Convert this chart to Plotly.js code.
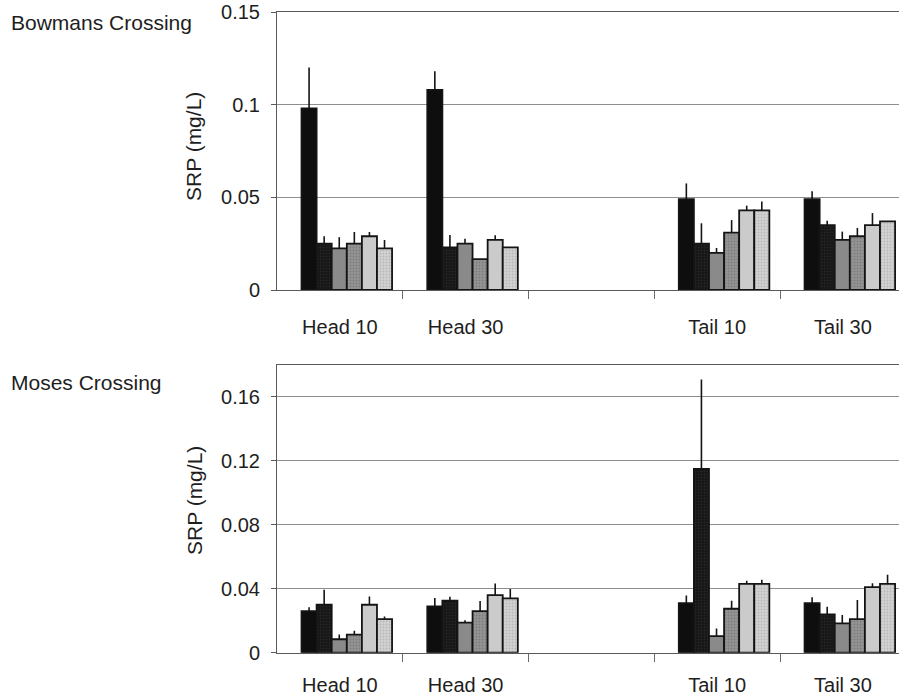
<!DOCTYPE html>
<html>
<head>
<meta charset="utf-8">
<script src="https://cdn.plot.ly/plotly-3.0.1.min.js"></script>
<style>
  html, body { margin: 0; padding: 0; background: #ffffff; }
  #chart { width: 899px; height: 700px; }
</style>
</head>
<body>
<div id="chart"></div>
<script>
// Sampling sites along the reach (gap between the head and tail reaches)
const siteLabels = ["Head 10", "Head 30", "Tail 10", "Tail 30"];
const sitePos = [0, 1, 3, 4];

// Bowmans Crossing: mean SRP (mg/L), one array per sampling series
const bowmansMean1 = [0.098, 0.108, 0.049, 0.049];
const bowmansMean2 = [0.025, 0.023, 0.025, 0.035];
const bowmansMean3 = [0.0225, 0.025, 0.020, 0.027];
const bowmansMean4 = [0.025, 0.0167, 0.031, 0.029];
const bowmansMean5 = [0.029, 0.027, 0.043, 0.035];
const bowmansMean6 = [0.0225, 0.023, 0.043, 0.037];

// Bowmans Crossing: standard error (upper bar only)
const bowmansErr1 = [0.022, 0.010, 0.0085, 0.0043];
const bowmansErr2 = [0.004, 0.0067, 0.011, 0.0023];
const bowmansErr3 = [0.006, 0.0027, 0.0027, 0.0045];
const bowmansErr4 = [0.0063, 0, 0.0067, 0.0045];
const bowmansErr5 = [0.0023, 0.0025, 0.0025, 0.0065];
const bowmansErr6 = [0.0045, 0, 0.0047, 0];

// Moses Crossing: mean SRP (mg/L)
const mosesMean1 = [0.026, 0.029, 0.031, 0.031];
const mosesMean2 = [0.030, 0.0325, 0.115, 0.024];
const mosesMean3 = [0.0084, 0.0188, 0.0104, 0.0184];
const mosesMean4 = [0.0113, 0.026, 0.0275, 0.021];
const mosesMean5 = [0.030, 0.036, 0.043, 0.041];
const mosesMean6 = [0.021, 0.034, 0.043, 0.043];

// Moses Crossing: standard error (upper bar only)
const mosesErr1 = [0.0025, 0.0052, 0.0048, 0.0037];
const mosesErr2 = [0.0094, 0.0025, 0.056, 0.0048];
const mosesErr3 = [0.003, 0.0015, 0.0048, 0.0052];
const mosesErr4 = [0.0025, 0.0063, 0.005, 0.012];
const mosesErr5 = [0.0052, 0.0073, 0.002, 0.0025];
const mosesErr6 = [0.0017, 0.0058, 0.0026, 0.0058];

// Axis ticks
const bowmansTicks = [0, 0.05, 0.1, 0.15];
const bowmansTickText = ["0", "0.05", "0.1", "0.15"];
const mosesTicks = [0, 0.04, 0.08, 0.12, 0.16];
const mosesTickText = ["0", "0.04", "0.08", "0.12", "0.16"];
const siteBoundaries = [0.5, 1.5, 2.5, 3.5];

// Fill shades for the six series (black through light grey)
const fills = ["#0e0e0e", "#161616", "#8a8a8a", "#959595", "#cbcbcb", "#d3d3d3"];
const dotColors = [null, "#262626", null, "#7c7c7c", null, "#b8b8b8"];

const W = 899, H = 700;
const FONT = "Liberation Sans, Arial, Helvetica, sans-serif";
const TXT = "#1e1e1e";
const barW = 0.12;
const groupStart = -0.305;

function makeTraces(means, errs, xa, ya) {
  return means.map((m, i) => {
    const t = {
      type: "bar",
      x: sitePos,
      y: m,
      xaxis: xa,
      yaxis: ya,
      width: barW,
      offset: groupStart + i * barW,
      showlegend: false,
      hoverinfo: "y",
      marker: {
        color: fills[i],
        line: { color: "#141414", width: 1.8 }
      },
      error_y: {
        type: "data",
        symmetric: false,
        array: errs[i],
        arrayminus: errs[i].map(() => 0),
        width: 0,
        thickness: 1.6,
        color: "#141414"
      }
    };
    if (dotColors[i]) {
      t.marker.pattern = {
        shape: ".",
        bgcolor: fills[i],
        fgcolor: dotColors[i],
        fillmode: "replace",
        size: 3,
        solidity: 0.3
      };
    }
    return t;
  });
}

const traces = [
  ...makeTraces(
    [bowmansMean1, bowmansMean2, bowmansMean3, bowmansMean4, bowmansMean5, bowmansMean6],
    [bowmansErr1, bowmansErr2, bowmansErr3, bowmansErr4, bowmansErr5, bowmansErr6],
    "x", "y"),
  ...makeTraces(
    [mosesMean1, mosesMean2, mosesMean3, mosesMean4, mosesMean5, mosesMean6],
    [mosesErr1, mosesErr2, mosesErr3, mosesErr4, mosesErr5, mosesErr6],
    "x2", "y2")
];

// pixel helpers for paper coordinates (margins are zero)
const px = v => v / W;
const py = v => 1 - v / H;

const xCommon = {
  domain: [px(277), 1],
  range: [-0.5, 4.446],
  tickmode: "array",
  tickvals: sitePos,
  ticktext: siteLabels,
  ticks: "",
  showline: true,
  linecolor: "#5a5a5a",
  linewidth: 1,
  mirror: true,
  showgrid: false,
  zeroline: false,
  tickfont: { family: FONT, size: 20, color: TXT },
  minor: {
    tickmode: "array",
    tickvals: siteBoundaries,
    ticks: "outside",
    ticklen: 8,
    tickwidth: 1,
    tickcolor: "#6a6a6a",
    showgrid: false
  },
  fixedrange: true
};

const yCommon = {
  tickmode: "array",
  ticks: "outside",
  ticklen: 5,
  tickwidth: 1,
  tickcolor: "#5a5a5a",
  showline: true,
  linecolor: "#5a5a5a",
  linewidth: 1,
  showgrid: true,
  gridcolor: "#8e8e8e",
  gridwidth: 1,
  zeroline: false,
  ticklabelstandoff: 7,
  tickfont: { family: FONT, size: 20, color: TXT },
  fixedrange: true
};

const layout = {
  width: W,
  height: H,
  margin: { l: 0, r: 0, t: 0, b: 0 },
  paper_bgcolor: "#ffffff",
  plot_bgcolor: "#ffffff",
  font: { family: FONT, size: 20, color: TXT },
  barmode: "overlay",
  showlegend: false,
  xaxis: Object.assign({}, xCommon, { anchor: "y", ticklabelstandoff: 19 }),
  yaxis: Object.assign({}, yCommon, {
    anchor: "x",
    domain: [py(290), py(12)],
    range: [0, 0.15],
    tickvals: bowmansTicks,
    ticktext: bowmansTickText
  }),
  xaxis2: Object.assign({}, xCommon, { anchor: "y2", ticklabelstandoff: 14 }),
  yaxis2: Object.assign({}, yCommon, {
    anchor: "x2",
    domain: [py(652.7), py(365)],
    range: [0, 0.18],
    tickvals: mosesTicks,
    ticktext: mosesTickText
  }),
  annotations: [
    { text: "Bowmans Crossing", xref: "paper", yref: "paper", x: px(9), y: py(22),
      xanchor: "left", yanchor: "middle", showarrow: false, font: { family: FONT, size: 21, color: TXT } },
    { text: "Moses Crossing", xref: "paper", yref: "paper", x: px(9), y: py(382),
      xanchor: "left", yanchor: "middle", showarrow: false, font: { family: FONT, size: 21, color: TXT } },
    { text: "SRP (mg/L)", xref: "paper", yref: "paper", x: px(194), y: py(147), textangle: -90,
      xanchor: "center", yanchor: "middle", showarrow: false, font: { family: FONT, size: 21, color: TXT } },
    { text: "SRP (mg/L)", xref: "paper", yref: "paper", x: px(194), y: py(501), textangle: -90,
      xanchor: "center", yanchor: "middle", showarrow: false, font: { family: FONT, size: 21, color: TXT } }
  ]
};

Plotly.newPlot("chart", traces, layout, { displayModeBar: false, staticPlot: true });
</script>
</body>
</html>
